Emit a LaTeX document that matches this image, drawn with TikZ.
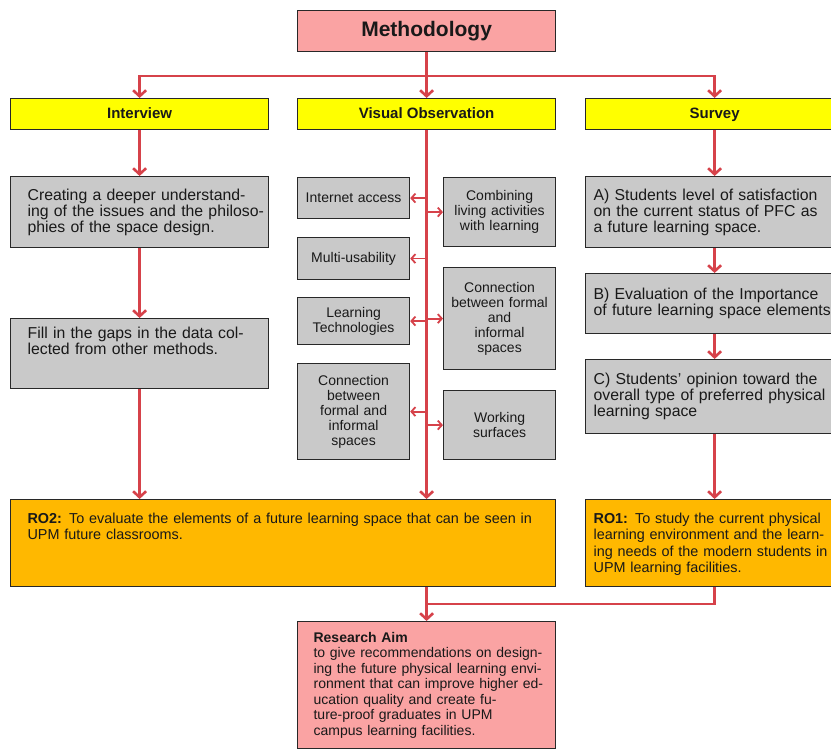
\documentclass[tikz,border=0pt]{standalone}
\usepackage{fontspec}
\setmainfont{Liberation Sans}
\usetikzlibrary{arrows.meta}
\definecolor{redl}{RGB}{214,66,74}
\definecolor{pinkc}{RGB}{250,163,163}
\definecolor{yelc}{RGB}{255,255,0}
\definecolor{grayc}{RGB}{201,201,201}
\definecolor{orc}{RGB}{255,184,0}
\definecolor{bordc}{RGB}{40,40,40}
\definecolor{txtc}{RGB}{25,25,25}
\begin{document}
\begin{tikzpicture}[x=1pt,y=-1pt,
 box/.style={draw=bordc,line width=1.2pt,inner ysep=0pt,inner xsep=0pt,text=txtc,anchor=north west},
 conn/.style={draw=redl,line width=2.6pt},
 arr/.style={conn,-{Straight Barb[length=6pt,width=13pt]}},
 sarr/.style={draw=redl,line width=1.8pt,-{Straight Barb[length=4pt,width=9pt]}},
 hdr/.style={box,fill=yelc,minimum width=258pt,minimum height=31pt,text height=11pt,text depth=3pt,font=\fontsize{15}{17}\selectfont\bfseries},
 big/.style={box,fill=grayc,align=left,font=\fontsize{15.8}{16}\selectfont},
 sml/.style={box,fill=grayc,minimum width=112pt,text width=112pt,align=center,font=\fontsize{14}{15}\selectfont},
 ro/.style={box,fill=orc,align=left,font=\fontsize{14.4}{16.5}\selectfont},
]
\useasboundingbox (0,0) rectangle (831,749);
\fill[white] (0,0) rectangle (831,749);
\clip (0,0) rectangle (831,749);

\node[box,fill=pinkc,minimum width=258pt,minimum height=41pt,text height=15pt,text depth=4pt,font=\fontsize{21}{24}\selectfont\bfseries] (meth) at (297,10) {Methodology};

\node[hdr] (hint) at (10,98) {Interview};
\node[hdr] (hvo) at (297,98) {Visual Observation};
\node[hdr] (hsur) at (585,98) {Survey};

\node[big,minimum height=71pt,text width=258pt] (cre) at (10,176) {\leftskip=17pt\relax Creating a deeper understand-\\ing of the issues and the philoso-\\phies of the space design.\par};
\node[big,minimum height=70pt,text width=258pt] (fill) at (10,318) {\parbox[c][64pt][t]{258pt}{\leftskip=17pt\relax\vspace*{5pt}Fill in the gaps in the data col-\\lected from other methods.\par}};

\node[big,minimum height=71pt,text width=266pt] (sa) at (585,176) {\leftskip=8pt\relax A) Students level of satisfaction\\on the current status of PFC as\\a future learning space.\par};
\node[big,minimum height=60pt,text width=266pt] (sb) at (585,273) {\leftskip=8pt\relax B) Evaluation of the Importance\\of future learning space elements\par};
\node[big,minimum height=74pt,text width=266pt] (sc) at (585,359) {\leftskip=8pt\relax C) Students' opinion toward the\\overall type of preferred physical\\learning space\par};

\node[sml,minimum height=41pt] (inet) at (297,177) {Internet access};
\node[sml,minimum height=42pt] (multi) at (297,237) {Multi-usability};
\node[sml,minimum height=47pt] (ltech) at (297,297) {Learning\\Technologies};
\node[sml,minimum height=96pt] (connl) at (297,363) {Connection\\between\\formal and\\informal\\spaces};
\node[sml,minimum height=69pt] (comb) at (443,177) {Combining\\living activities\\with learning};
\node[sml,minimum height=102pt] (connr) at (443,267) {Connection\\between formal\\and\\informal\\spaces};
\node[sml,minimum height=69pt] (work) at (443,390) {Working\\surfaces};

\node[ro,minimum height=87pt,text width=545pt] (ro2) at (10,499) {\parbox[c][81pt][t]{545pt}{\leftskip=17pt\relax\vspace*{10pt}\textbf{RO2:} To evaluate the elements of a future learning space that can be seen in\\UPM future classrooms.\par}};
\node[ro,minimum height=87pt,text width=266pt] (ro1) at (585,499) {\parbox[c][81pt][t]{266pt}{\leftskip=8pt\relax\vspace*{10pt}\textbf{RO1:} To study the current physical\\learning environment and the learn-\\ing needs of the modern students in\\UPM learning facilities.\par}};

\node[box,fill=pinkc,minimum height=127pt,text width=258pt,align=left,font=\fontsize{14}{15.5}\selectfont] (res) at (297,621) {\leftskip=16pt\relax\textbf{Research Aim}\\to give recommendations on design-\\ing the future physical learning envi-\\ronment that can improve higher ed-\\ucation quality and create fu-\\ture-proof graduates in UPM\\campus learning facilities.\par};

\coordinate (hub) at (426,76);
\coordinate (merge) at (426,604);
\draw[arr] (meth.south) -- (hvo.north);
\draw[arr] (hub) -| (hint.north);
\draw[arr] (hub) -| (hsur.north);

\draw[arr] (hint.south) -- (cre.north);
\draw[arr] (cre.south) -- (fill.north);
\draw[arr] (fill.south) -- (fill.south |- ro2.north);

\draw[arr] (hvo.south) -- (hvo.south |- ro2.north);
\draw[sarr] (hvo.south |- inet.east) -- (inet.east);
\draw[sarr] (hvo.south |- multi.east) -- (multi.east);
\draw[sarr] (hvo.south |- ltech.east) -- (ltech.east);
\draw[sarr] (hvo.south |- connl.east) -- (connl.east);
\draw[sarr] (hvo.south |- comb.west) -- (comb.west);
\draw[sarr] (hvo.south |- connr.west) -- (connr.west);
\draw[sarr] (hvo.south |- work.west) -- (work.west);

\draw[arr] (hsur.south) -- (hsur.south |- sa.north);
\draw[arr] (hsur.south |- sa.south) -- (hsur.south |- sb.north);
\draw[arr] (hsur.south |- sb.south) -- (hsur.south |- sc.north);
\draw[arr] (hsur.south |- sc.south) -- (hsur.south |- ro1.north);

\draw[conn] (hsur.south |- ro1.south) |- (merge);
\draw[arr] (res.north |- ro2.south) -- (res.north);
\end{tikzpicture}
\end{document}
